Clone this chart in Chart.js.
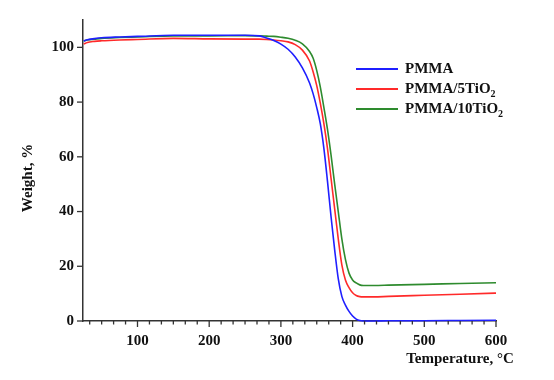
<!DOCTYPE html>
<html><head><meta charset="utf-8">
<script src="https://cdn.jsdelivr.net/npm/chart.js@4.4.0/dist/chart.umd.min.js"></script>
<style>html,body{margin:0;padding:0;background:#fff;}#wrap{width:554px;height:380px;position:relative;}</style>
</head><body><div id="wrap"><canvas id="c" width="554" height="380"></canvas></div>
<script>
const temps  = [25, 30, 40, 50, 75, 100, 150, 200, 250, 270, 280, 290, 300, 310, 320, 330, 340, 345, 350, 355, 360, 365, 370, 375, 380, 385, 390, 395, 400, 405, 410, 415, 420, 430, 450, 500, 550, 600];
const pmma   = [102.3, 102.8, 103.2, 103.5, 103.8, 104.0, 104.4, 104.4, 104.4, 104.2, 103.4, 102.5, 101.2, 99.3, 96.5, 92.5, 87.0, 83.0, 78.0, 72.0, 63.0, 51.0, 38.0, 26.0, 15.5, 9.0, 5.8, 3.5, 1.8, 0.7, 0.15, 0.0, 0.0, 0.0, 0.1, 0.1, 0.2, 0.3];
const pmma5  = [101.2, 101.8, 102.2, 102.4, 102.7, 102.9, 103.3, 103.1, 103.0, 103.0, 102.9, 102.7, 102.4, 102.0, 101.0, 99.0, 95.0, 91.0, 86.0, 79.5, 72.0, 63.0, 52.0, 41.0, 30.0, 20.5, 15.0, 12.2, 10.3, 9.3, 8.9, 8.8, 8.8, 8.8, 9.0, 9.4, 9.8, 10.2];
const pmma10 = [102.3, 102.7, 103.0, 103.3, 103.6, 103.8, 104.2, 104.2, 104.3, 104.2, 104.1, 104.0, 103.7, 103.3, 102.6, 101.3, 98.5, 96.0, 91.5, 85.5, 78.0, 70.0, 60.5, 50.0, 40.0, 30.0, 22.5, 17.5, 15.0, 13.9, 13.2, 13.0, 13.0, 13.0, 13.1, 13.4, 13.7, 14.0];
const seriesNames = ['PMMA', 'PMMA/5TiO₂', 'PMMA/10TiO₂'];
const legendMain  = ['PMMA', 'PMMA/5TiO', 'PMMA/10TiO'];
const legendSub   = ['', '2', '2'];
const xMajorTicks = [100, 200, 300, 400, 500, 600];
const yTicks = [0, 20, 40, 60, 80, 100];
const xTitle = 'Temperature, °C';
const yTitle = 'Weight, %';

const colors = ['#1f1fff', '#ff2a2a', '#2e8b2e'];
const FONT = '"Liberation Serif", "Times New Roman", serif';

const pts = arr => temps.map((t, i) => ({x: t, y: arr[i]}));

const decor = {
  id: 'decor',
  afterDraw(chart) {
    const ctx = chart.ctx, xs = chart.scales.x, ys = chart.scales.y;
    ctx.save();
    ctx.strokeStyle = '#333'; ctx.lineWidth = 1.3;
    const step = 100 / 6;
    for (let k = Math.ceil(xs.min / step); k * step <= xs.max + 1e-6; k++) {
      const px = xs.getPixelForValue(k * step);
      const major = k % 6 === 0;
      ctx.beginPath(); ctx.moveTo(px, xs.top); ctx.lineTo(px, xs.top + (major ? 6 : 3.5)); ctx.stroke();
    }
    yTicks.forEach(v => {
      const py = ys.getPixelForValue(v);
      ctx.beginPath(); ctx.moveTo(ys.right, py); ctx.lineTo(ys.right - 6, py); ctx.stroke();
    });
    // axis titles
    ctx.fillStyle = '#111';
    ctx.font = 'bold 15px ' + FONT;
    ctx.textAlign = 'center'; ctx.textBaseline = 'middle';
    ctx.fillText(xTitle, 460, 359);
    ctx.save(); ctx.translate(28, 178); ctx.rotate(-Math.PI / 2);
    ctx.fillText(yTitle, 0, 0); ctx.restore();
    // legend
    const rows = [69, 89, 109];
    rows.forEach((y, i) => {
      ctx.strokeStyle = colors[i]; ctx.lineWidth = 2;
      ctx.beginPath(); ctx.moveTo(356, y); ctx.lineTo(398, y); ctx.stroke();
      ctx.fillStyle = '#111';
      ctx.textAlign = 'left'; ctx.textBaseline = 'middle';
      ctx.font = 'bold 15px ' + FONT;
      ctx.fillText(legendMain[i], 405, y);
      if (legendSub[i]) {
        const w = ctx.measureText(legendMain[i]).width;
        ctx.font = 'bold 10px ' + FONT;
        ctx.fillText(legendSub[i], 405 + w, y + 5);
      }
    });
    ctx.restore();
  }
};

new Chart(document.getElementById('c'), {
  type: 'line',
  data: {
    datasets: [pmma, pmma5, pmma10].map((arr, i) => ({
      label: seriesNames[i],
      data: pts(arr),
      borderColor: colors[i],
      backgroundColor: colors[i],
      borderWidth: 1.6,
      pointRadius: 0,
      cubicInterpolationMode: 'monotone',
      fill: false,
      clip: 3
    }))
  },
  options: {
    responsive: false,
    animation: false,
    events: [],
    layout: { padding: { top: 20, right: 58, left: 0, bottom: 0 } },
    plugins: { legend: { display: false }, tooltip: { enabled: false }, title: { display: false } },
    scales: {
      x: {
        type: 'linear', min: 24, max: 600,
        afterBuildTicks: s => { s.ticks = xMajorTicks.map(v => ({value: v})); },
        afterFit: s => { s.height = 59; },
        grid: { display: false, drawTicks: false },
        border: { display: true, color: '#333', width: 1.5 },
        ticks: { color: '#111', font: { family: FONT, size: 15, weight: 'bold' }, padding: 11, maxRotation: 0, autoSkip: false }
      },
      y: {
        type: 'linear', min: 0, max: 110,
        afterBuildTicks: s => { s.ticks = yTicks.map(v => ({value: v})); },
        afterFit: s => { s.width = 83; },
        grid: { display: false, drawTicks: false },
        border: { display: true, color: '#333', width: 1.5 },
        ticks: { color: '#111', font: { family: FONT, size: 15, weight: 'bold' }, padding: 9 }
      }
    }
  },
  plugins: [decor]
});
</script>
</body></html>
